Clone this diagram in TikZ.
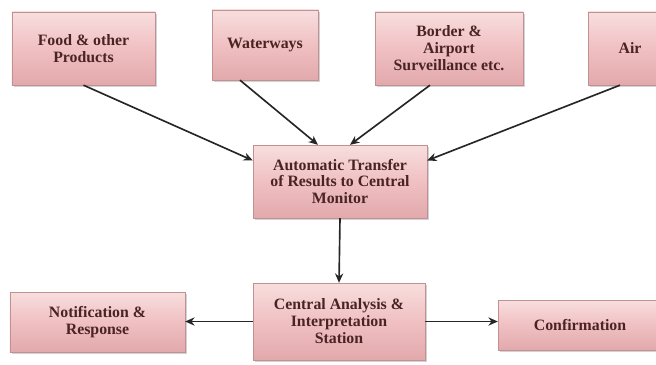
\documentclass[tikz,border=0pt]{standalone}
\usepackage{fontspec}
\setmainfont{Liberation Serif}
\usetikzlibrary{shadows,arrows.meta}
\definecolor{rosetop}{HTML}{F8DEDE}
\definecolor{rosemid}{HTML}{F0C0C2}
\definecolor{rosebot}{HTML}{E2A9AC}
\definecolor{inktext}{HTML}{4A2323}
\tikzset{
    flowbox/.style={draw=rosebot!85!black, line width=0.3pt, top color=rosetop, bottom color=rosebot,
        middle color=rosemid, drop shadow={shadow xshift=2pt, shadow yshift=-2pt, opacity=0.35},
        font=\fontsize{13.5}{14.5}\selectfont\bfseries, text=inktext, align=center, inner sep=2pt},
    flowarrow/.style={-{Stealth[length=8pt,width=7pt]}, line width=1.4pt, black!85}
}
\begin{document}
\begin{tikzpicture}[x=0.03cm, y=-0.03cm]
        \useasboundingbox (0, 0) rectangle (656, 364);
        % top row
        \node [flowbox, minimum width=4.29cm, minimum height=2.19cm] (food) at (83.5, 48.5) {Food \& other\\Products};
        \node [flowbox, minimum width=3.18cm, minimum height=2.10cm] (water) at (265, 45) {Waterways};
        \node [flowbox, minimum width=4.44cm, minimum height=2.19cm] (border) at (449, 48.5) {Border \&\\Airport\\Surveillance etc.};
        \node [flowbox, minimum width=2.52cm, minimum height=2.19cm] (air) at (630, 48.5) {Air};
        % middle
        \node [flowbox, minimum width=5.22cm, minimum height=2.19cm] (monitor) at (340, 181.5) {Automatic Transfer\\of Results to Central\\Monitor};
        % bottom row
        \node [flowbox, minimum width=5.16cm, minimum height=2.31cm] (station) at (339, 321.5) {Central Analysis \&\\Interpretation\\Station};
        \node [flowbox, minimum width=5.25cm, minimum height=1.80cm] (notify) at (97.5, 322) {Notification \&\\Response};
        \node [flowbox, minimum width=4.92cm, minimum height=1.50cm] (confirm) at (580, 325) {Confirmation};
        % connectors
        \draw [flowarrow] (food.south) -- ([yshift=0.63cm]monitor.west);
        \draw [flowarrow] ([xshift=-0.75cm]water.south) -- ([xshift=-0.66cm]monitor.north);
        \draw [flowarrow] ([xshift=-0.57cm]border.south) -- ([xshift=0.3cm]monitor.north);
        \draw [flowarrow] ([xshift=-0.3cm]air.south) -- ([yshift=0.63cm]monitor.east);
        \draw [flowarrow] (monitor.south) -- (station.north);
        \draw [flowarrow] (station.west) -- (station.west -| notify.east);
        \draw [flowarrow] (station.east) -- (station.east -| confirm.west);
    \end{tikzpicture}
\end{document}
